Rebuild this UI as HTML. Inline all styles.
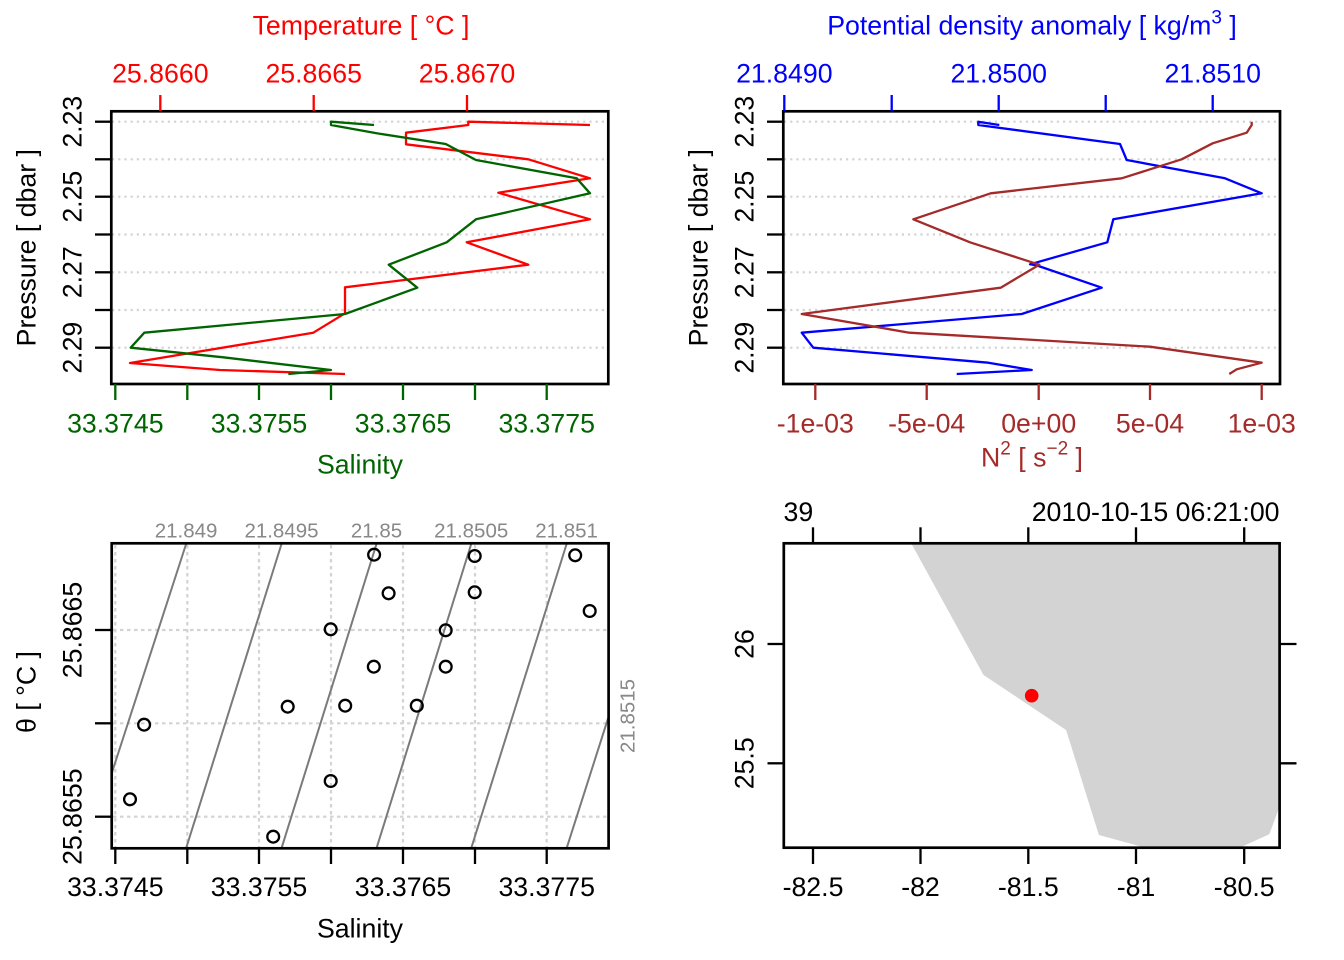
<!DOCTYPE html>
<html><head><meta charset="utf-8"><style>
html,body{margin:0;padding:0;background:#fff;}
svg{display:block;}
text{font-family:"Liberation Sans",Arial,sans-serif;}
</style></head><body>
<svg width="1344" height="960" viewBox="0 0 1344 960" xmlns="http://www.w3.org/2000/svg">
<rect x="0" y="0" width="1344" height="960" fill="#fff"/>

<!-- ================= PANEL 1 ================= -->
<g stroke="#d3d3d3" stroke-width="2.2" stroke-dasharray="2.2 4" fill="none">
<line x1="112" y1="121.7" x2="608" y2="121.7"/>
<line x1="112" y1="159.3" x2="608" y2="159.3"/>
<line x1="112" y1="196.7" x2="608" y2="196.7"/>
<line x1="112" y1="234.5" x2="608" y2="234.5"/>
<line x1="112" y1="272.3" x2="608" y2="272.3"/>
<line x1="112" y1="310" x2="608" y2="310"/>
<line x1="112" y1="347.7" x2="608" y2="347.7"/>
</g>
<polyline fill="none" stroke="#ff0000" stroke-width="2.3" stroke-linejoin="round" points="590,125 468.3,121.7 468.3,125 406,132.7 406,144.3 528.3,159.3 590,178.3 498.3,192.7 590,219.3 466.7,242.3 528.3,264.7 345,287.3 345,313.3 313.3,332.7 130,363 220,370 345,374"/>
<polyline fill="none" stroke="#006400" stroke-width="2.3" stroke-linejoin="round" points="374,125 331,121.7 331,125 376.7,133.3 445.7,144 476,160 576.7,178.3 590,193.3 476,219.3 446.7,242.3 388.7,264.7 417.3,287.7 345,314 144.3,332.7 130.7,347.7 223.3,357.3 331,370 288.3,374"/>
<rect x="111.3" y="111.3" width="497" height="272.7" fill="none" stroke="#000" stroke-width="2.7"/>
<!-- left ticks -->
<g stroke="#000" stroke-width="2.3">
<line x1="95" y1="121.7" x2="111" y2="121.7"/>
<line x1="95" y1="159.3" x2="111" y2="159.3"/>
<line x1="95" y1="196.7" x2="111" y2="196.7"/>
<line x1="95" y1="234.5" x2="111" y2="234.5"/>
<line x1="95" y1="272.3" x2="111" y2="272.3"/>
<line x1="95" y1="310" x2="111" y2="310"/>
<line x1="95" y1="347.7" x2="111" y2="347.7"/>
</g>
<g font-size="26.7" text-anchor="middle" fill="#000">
<text transform="translate(81.7,121.7) rotate(-90)">2.23</text>
<text transform="translate(81.7,196.7) rotate(-90)">2.25</text>
<text transform="translate(81.7,272.3) rotate(-90)">2.27</text>
<text transform="translate(81.7,347.7) rotate(-90)">2.29</text>
<text transform="translate(35.5,247.7) rotate(-90)">Pressure [ dbar ]</text>
</g>
<!-- top temp ticks -->
<g stroke="#ff0000" stroke-width="2.3">
<line x1="160.3" y1="95" x2="160.3" y2="111"/>
<line x1="313.7" y1="95" x2="313.7" y2="111"/>
<line x1="467" y1="95" x2="467" y2="111"/>
</g>
<g font-size="26.7" text-anchor="middle" fill="#ff0000">
<text x="160.3" y="82.5">25.8660</text>
<text x="313.7" y="82.5">25.8665</text>
<text x="467" y="82.5">25.8670</text>
<text x="361" y="34.5">Temperature [ °C ]</text>
</g>
<!-- bottom salinity ticks -->
<g stroke="#006400" stroke-width="2.3">
<line x1="115.3" y1="384" x2="115.3" y2="400"/>
<line x1="187.3" y1="384" x2="187.3" y2="400"/>
<line x1="259" y1="384" x2="259" y2="400"/>
<line x1="331" y1="384" x2="331" y2="400"/>
<line x1="403" y1="384" x2="403" y2="400"/>
<line x1="475" y1="384" x2="475" y2="400"/>
<line x1="546.7" y1="384" x2="546.7" y2="400"/>
</g>
<g font-size="26.7" text-anchor="middle" fill="#006400">
<text x="115.3" y="432.5">33.3745</text>
<text x="259" y="432.5">33.3755</text>
<text x="403" y="432.5">33.3765</text>
<text x="546.7" y="432.5">33.3775</text>
<text x="360" y="473.5">Salinity</text>
</g>

<!-- ================= PANEL 2 ================= -->
<g stroke="#d3d3d3" stroke-width="2.2" stroke-dasharray="2.2 4" fill="none">
<line x1="784" y1="121.7" x2="1280" y2="121.7"/>
<line x1="784" y1="159.3" x2="1280" y2="159.3"/>
<line x1="784" y1="196.7" x2="1280" y2="196.7"/>
<line x1="784" y1="234.5" x2="1280" y2="234.5"/>
<line x1="784" y1="272.3" x2="1280" y2="272.3"/>
<line x1="784" y1="310" x2="1280" y2="310"/>
<line x1="784" y1="347.7" x2="1280" y2="347.7"/>
</g>
<polyline fill="none" stroke="#0000ff" stroke-width="2.3" stroke-linejoin="round" points="999.3,125 978.3,121.7 978.3,125 1120,144 1126.7,160 1225,178.3 1261.7,193.3 1113.3,219.3 1107.3,242.3 1030,264.3 1037,265.5 1101.7,287.7 1021.7,314 801.7,332.7 813.3,347.7 988.3,362.7 1031.7,370 956.7,374"/>
<polyline fill="none" stroke="#a52a2a" stroke-width="2.3" stroke-linejoin="round" points="1251.7,121.7 1251.7,125 1246.7,132.7 1212.7,143.3 1181.7,159.3 1121.7,178.3 990.7,193.3 913.3,219.3 970,242.3 1039.3,264.7 1000.7,287.7 801.7,314 909.3,332.7 1150,346.7 1261.7,362.7 1236.7,369.3 1229.3,374"/>
<rect x="783.3" y="111.3" width="496.7" height="272.7" fill="none" stroke="#000" stroke-width="2.7"/>
<g stroke="#000" stroke-width="2.3">
<line x1="767" y1="121.7" x2="783" y2="121.7"/>
<line x1="767" y1="159.3" x2="783" y2="159.3"/>
<line x1="767" y1="196.7" x2="783" y2="196.7"/>
<line x1="767" y1="234.5" x2="783" y2="234.5"/>
<line x1="767" y1="272.3" x2="783" y2="272.3"/>
<line x1="767" y1="310" x2="783" y2="310"/>
<line x1="767" y1="347.7" x2="783" y2="347.7"/>
</g>
<g font-size="26.7" text-anchor="middle" fill="#000">
<text transform="translate(753.7,121.7) rotate(-90)">2.23</text>
<text transform="translate(753.7,196.7) rotate(-90)">2.25</text>
<text transform="translate(753.7,272.3) rotate(-90)">2.27</text>
<text transform="translate(753.7,347.7) rotate(-90)">2.29</text>
<text transform="translate(707.5,247.7) rotate(-90)">Pressure [ dbar ]</text>
</g>
<g stroke="#0000ff" stroke-width="2.3">
<line x1="784.3" y1="95" x2="784.3" y2="111"/>
<line x1="891.7" y1="95" x2="891.7" y2="111"/>
<line x1="998.7" y1="95" x2="998.7" y2="111"/>
<line x1="1105.7" y1="95" x2="1105.7" y2="111"/>
<line x1="1212.7" y1="95" x2="1212.7" y2="111"/>
</g>
<g font-size="26.7" text-anchor="middle" fill="#0000ff">
<text x="784.3" y="82.5">21.8490</text>
<text x="998.7" y="82.5">21.8500</text>
<text x="1212.7" y="82.5">21.8510</text>
<text x="1032" y="34.5">Potential density anomaly [ kg/m<tspan font-size="19" dy="-11">3</tspan><tspan dy="11"> ]</tspan></text>
</g>
<g stroke="#a52a2a" stroke-width="2.3">
<line x1="815.3" y1="384" x2="815.3" y2="400"/>
<line x1="926.7" y1="384" x2="926.7" y2="400"/>
<line x1="1038.7" y1="384" x2="1038.7" y2="400"/>
<line x1="1150" y1="384" x2="1150" y2="400"/>
<line x1="1261.7" y1="384" x2="1261.7" y2="400"/>
</g>
<g font-size="26.7" text-anchor="middle" fill="#a52a2a">
<text x="815.3" y="432.5">-1e-03</text>
<text x="926.7" y="432.5">-5e-04</text>
<text x="1038.7" y="432.5">0e+00</text>
<text x="1150" y="432.5">5e-04</text>
<text x="1261.7" y="432.5">1e-03</text>
<text x="1032" y="466.7">N<tspan font-size="19" dy="-12">2</tspan><tspan dy="12"> [ s</tspan><tspan font-size="19" dy="-12">−2</tspan><tspan dy="12"> ]</tspan></text>
</g>

<!-- ================= PANEL 3 ================= -->
<g stroke="#d3d3d3" stroke-width="2.2" stroke-dasharray="3.5 3.5" fill="none">
<line x1="115.3" y1="545" x2="115.3" y2="847"/>
<line x1="187.3" y1="545" x2="187.3" y2="847"/>
<line x1="259" y1="545" x2="259" y2="847"/>
<line x1="331" y1="545" x2="331" y2="847"/>
<line x1="403" y1="545" x2="403" y2="847"/>
<line x1="475" y1="545" x2="475" y2="847"/>
<line x1="546.7" y1="545" x2="546.7" y2="847"/>
<line x1="113" y1="630" x2="607" y2="630"/>
<line x1="113" y1="723.3" x2="607" y2="723.3"/>
<line x1="113" y1="816.7" x2="607" y2="816.7"/>
</g>
<g stroke="#7a7a7a" stroke-width="2" fill="none">
<line x1="186.1" y1="544" x2="111.7" y2="773.3"/>
<line x1="281.5" y1="544" x2="186.1" y2="848.3"/>
<line x1="376.5" y1="544" x2="281.5" y2="848.3"/>
<line x1="471.2" y1="544" x2="376.5" y2="848.3"/>
<line x1="566.6" y1="544" x2="471.2" y2="848.3"/>
<line x1="608.6" y1="716.7" x2="566.6" y2="848.3"/>
</g>
<g fill="none" stroke="#000" stroke-width="2.3">
<circle cx="374.1" cy="554.7" r="5.9"/>
<circle cx="474.7" cy="556" r="5.9"/>
<circle cx="575.2" cy="555.3" r="5.9"/>
<circle cx="388.6" cy="593.3" r="5.9"/>
<circle cx="474.7" cy="592.3" r="5.9"/>
<circle cx="589.7" cy="611" r="5.9"/>
<circle cx="330.7" cy="629.3" r="5.9"/>
<circle cx="445.7" cy="630.3" r="5.9"/>
<circle cx="373.8" cy="666.7" r="5.9"/>
<circle cx="445.7" cy="666.7" r="5.9"/>
<circle cx="287.7" cy="706.7" r="5.9"/>
<circle cx="345.2" cy="705.7" r="5.9"/>
<circle cx="416.8" cy="705.7" r="5.9"/>
<circle cx="144.1" cy="724.7" r="5.9"/>
<circle cx="330.7" cy="781" r="5.9"/>
<circle cx="130" cy="799.3" r="5.9"/>
<circle cx="273.2" cy="836.7" r="5.9"/>
</g>
<rect x="111.7" y="543.3" width="496.9" height="305" fill="none" stroke="#000" stroke-width="2.7"/>
<g fill="#888" font-size="20.5" text-anchor="middle">
<text x="186.1" y="537.3">21.849</text>
<text x="281.5" y="537.3">21.8495</text>
<text x="376.5" y="537.3">21.85</text>
<text x="471.2" y="537.3">21.8505</text>
<text x="566.6" y="537.3">21.851</text>
<text transform="translate(634.3,716) rotate(-90)">21.8515</text>
</g>
<g stroke="#000" stroke-width="2.3">
<line x1="95" y1="630" x2="111" y2="630"/>
<line x1="95" y1="723.3" x2="111" y2="723.3"/>
<line x1="95" y1="816.7" x2="111" y2="816.7"/>
<line x1="115.3" y1="848" x2="115.3" y2="864"/>
<line x1="187.3" y1="848" x2="187.3" y2="864"/>
<line x1="259" y1="848" x2="259" y2="864"/>
<line x1="331" y1="848" x2="331" y2="864"/>
<line x1="403" y1="848" x2="403" y2="864"/>
<line x1="475" y1="848" x2="475" y2="864"/>
<line x1="546.7" y1="848" x2="546.7" y2="864"/>
</g>
<g font-size="26.7" text-anchor="middle" fill="#000">
<text transform="translate(81.7,630) rotate(-90)">25.8665</text>
<text transform="translate(81.7,816.7) rotate(-90)">25.8655</text>
<text transform="translate(35.5,692) rotate(-90)">θ [ °C ]</text>
<text x="115.3" y="896">33.3745</text>
<text x="259" y="896">33.3755</text>
<text x="403" y="896">33.3765</text>
<text x="546.7" y="896">33.3775</text>
<text x="360" y="937.5">Salinity</text>
</g>

<!-- ================= PANEL 4 (map) ================= -->
<polygon fill="#d3d3d3" points="911.2,543.3 983.5,675 1066.1,730 1098.9,835 1141.9,846.7 1241.8,846.7 1269.3,834.3 1279,808.3 1279,543.3"/>
<circle cx="1031.7" cy="695.7" r="6.8" fill="#ff0000"/>
<rect x="783.8" y="543.3" width="495.8" height="304.4" fill="none" stroke="#000" stroke-width="2.7"/>
<g stroke="#000" stroke-width="2.3">
<line x1="813" y1="527.3" x2="813" y2="543"/>
<line x1="920.5" y1="527.3" x2="920.5" y2="543"/>
<line x1="1028.3" y1="527.3" x2="1028.3" y2="543"/>
<line x1="1136" y1="527.3" x2="1136" y2="543"/>
<line x1="1244.2" y1="527.3" x2="1244.2" y2="543"/>
<line x1="813" y1="848" x2="813" y2="864"/>
<line x1="920.5" y1="848" x2="920.5" y2="864"/>
<line x1="1028.3" y1="848" x2="1028.3" y2="864"/>
<line x1="1136" y1="848" x2="1136" y2="864"/>
<line x1="1244.2" y1="848" x2="1244.2" y2="864"/>
<line x1="767.5" y1="644" x2="783.5" y2="644"/>
<line x1="767.5" y1="763.3" x2="783.5" y2="763.3"/>
<line x1="1280" y1="644" x2="1296.5" y2="644"/>
<line x1="1280" y1="763.3" x2="1296.5" y2="763.3"/>
</g>
<g font-size="26.7" fill="#000">
<text x="783.5" y="521">39</text>
<text x="1279.5" y="521" text-anchor="end">2010-10-15 06:21:00</text>
</g>
<g font-size="26.7" text-anchor="middle" fill="#000">
<text x="813" y="896">-82.5</text>
<text x="920.5" y="896">-82</text>
<text x="1028.3" y="896">-81.5</text>
<text x="1136" y="896">-81</text>
<text x="1244.2" y="896">-80.5</text>
<text transform="translate(753.7,644) rotate(-90)">26</text>
<text transform="translate(753.7,763.3) rotate(-90)">25.5</text>
</g>
</svg>
</body></html>
